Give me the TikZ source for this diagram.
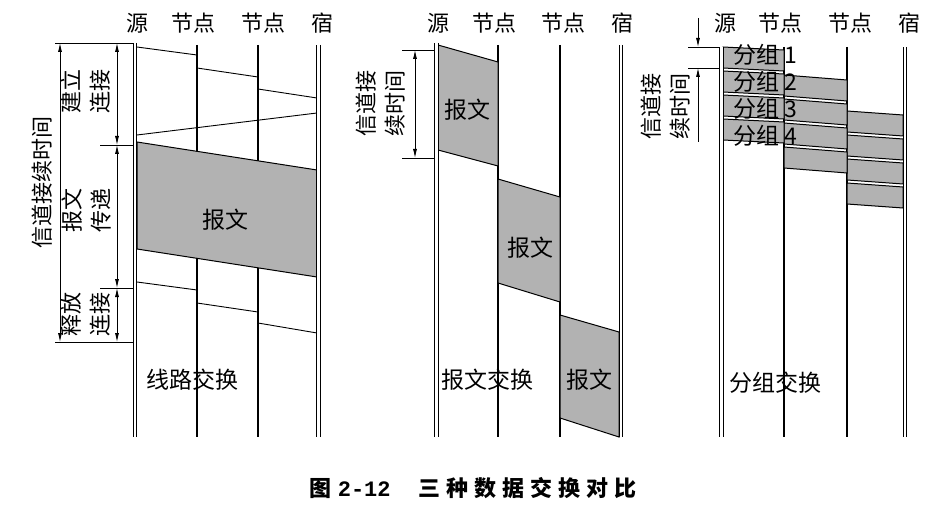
\documentclass[tikz,border=0pt]{standalone}
\usepackage{fontspec}
\newfontfamily\cjk{Noto Sans CJK SC}
\newfontfamily\capmono{Liberation Mono}
\usepackage{tikz}
\usetikzlibrary{arrows.meta}

\begin{document}
\begin{tikzpicture}[x=1pt, y=-1pt,
        lane/.style={line width=1.1pt},
        endlane/.style={line width=1.1pt, double=white, double distance=2.2pt},
        sig/.style={line width=0.9pt},
        msg/.style={draw, line width=1pt, fill=black!30},
        extline/.style={line width=0.8pt},
        dim/.style={{Latex[length=9pt,width=4pt]}-{Latex[length=9pt,width=4pt]}, line width=0.8pt},
        onedim/.style={-{Latex[length=9pt,width=4pt]}, line width=0.8pt},
        head/.style={font=\cjk\fontsize{22}{24}\selectfont, inner sep=0pt},
        txt/.style={font=\cjk\fontsize{23}{25}\selectfont, inner sep=0pt},
        vtxt/.style={font=\cjk\fontsize{22}{29}\selectfont, rotate=90, align=center, inner sep=0pt}
    ]
        \useasboundingbox (0,0) rectangle (929,505);

        % circuit switching
        \node[head] (src1) at (137,23) {源};
        \node[head] (nda1) at (193,23) {节点};
        \node[head] (ndb1) at (263,23) {节点};
        \node[head] (dst1) at (322,23) {宿};
        \draw[lane] (197,45) -- (197,437);
        \draw[lane] (258,45) -- (258,437);
        \draw[sig] (137,47) -- (197,55);
        \draw[sig] (197,68) -- (258,77);
        \draw[sig] (258,89) -- (317,98);
        \draw[sig] (317,113) -- (137,135);
        \filldraw[msg] (137,142) -- (317,170) -- (317,277) -- (137,249) -- cycle;
        \draw[sig] (137,282) -- (197,290);
        \draw[sig] (197,303) -- (258,312);
        \draw[sig] (258,323) -- (317,333);
        \draw[endlane] (135,43) -- (135,437);
        \draw[endlane] (318.5,45) -- (318.5,437);
        \node[txt] (body1) at (225,220) {报文};
        \node[txt] (name1) at (192,380) {线路交换};

        \draw[extline] (55,43) -- (133,43);
        \draw[extline] (55,342) -- (133,342);
        \draw[extline] (100,145) -- (133,145);
        \draw[extline] (100,288) -- (133,288);
        \draw[dim] (60,43) -- (60,342);
        \draw[dim] (117,43) -- (117,145);
        \draw[dim] (117,145) -- (117,288);
        \draw[dim] (117,288) -- (117,342);
        \node[vtxt] (hold1) at (42,182) {信道接续时间};
        \node[vtxt] (setup) at (86,92) {建立\\连接};
        \node[vtxt] (trans) at (87,211) {报文\\传递};
        \node[vtxt] (free) at (86,314) {释放\\连接};

        % message switching
        \node[head] (src2) at (438,23) {源};
        \node[head] (nda2) at (494,23) {节点};
        \node[head] (ndb2) at (563,23) {节点};
        \node[head] (dst2) at (622,23) {宿};
        \draw[lane] (498,45) -- (498,437);
        \draw[lane] (560,45) -- (560,437);
        \filldraw[msg] (438,45) -- (498,62) -- (498,166) -- (438,150) -- cycle;
        \filldraw[msg] (498,179) -- (560,197) -- (560,302) -- (498,283) -- cycle;
        \filldraw[msg] (560,315) -- (619,332) -- (619,437) -- (560,418) -- cycle;
        \draw[endlane] (436.5,43) -- (436.5,437);
        \draw[endlane] (621,45) -- (621,437);
        \node[txt] (body2a) at (467,110) {报文};
        \node[txt] (body2b) at (530,248) {报文};
        \node[txt] (body2c) at (589,380) {报文};
        \node[txt] (name2) at (487,380) {报文交换};

        \draw[extline] (402,50) -- (434,50);
        \draw[extline] (402,158) -- (434,158);
        \draw[dim] (415,50) -- (415,158);
        \node[vtxt] (hold2) at (381,104) {信道接\\续时间};

        % packet switching
        \node[head] (src3) at (725,23) {源};
        \node[head] (nda3) at (780,23) {节点};
        \node[head] (ndb3) at (850,23) {节点};
        \node[head] (dst3) at (909,23) {宿};
        \draw[lane] (784,47) -- (784,437);
        \draw[lane] (847,47) -- (847,437);
        \foreach \k in {0,1,2,3} {
            \filldraw[msg] (723,{47+24*\k}) -- (784,{50+24*\k}) -- (784,{71+24*\k}) -- (723,{68+24*\k}) -- cycle;
            \filldraw[msg] (784,{75+24*\k}) -- (847,{80+24*\k}) -- (847,{101+24*\k}) -- (784,{96+24*\k}) -- cycle;
            \filldraw[msg] (847,{111+24*\k}) -- (903,{115+24*\k}) -- (903,{136+24*\k}) -- (847,{132+24*\k}) -- cycle;
        }
        \draw[endlane] (721.5,47) -- (721.5,437);
        \draw[endlane] (905,47) -- (905,437);
        \node[txt] (pk1) at (765,55) {分组 1};
        \node[txt] (pk2) at (765,82) {分组 2};
        \node[txt] (pk3) at (765,109) {分组 3};
        \node[txt] (pk4) at (765,136) {分组 4};
        \node[txt] (name3) at (775,383) {分组交换};

        \draw[extline] (688,47) -- (719,47);
        \draw[extline] (688,68) -- (719,68);
        \draw[onedim] (698,18) -- (698,47);
        \draw[onedim] (698,142) -- (698,68);
        \node[vtxt] (hold3) at (666,107) {信道接\\续时间};

        \node[font=\cjk\bfseries\fontsize{22}{24}\selectfont, inner sep=0pt] (cap) at (473,488)
            {图\hspace{6pt}{\capmono\bfseries 2-12}\hspace{28pt}\addfontfeature{LetterSpace=27}三种数据交换对比};
    \end{tikzpicture}
\end{document}
